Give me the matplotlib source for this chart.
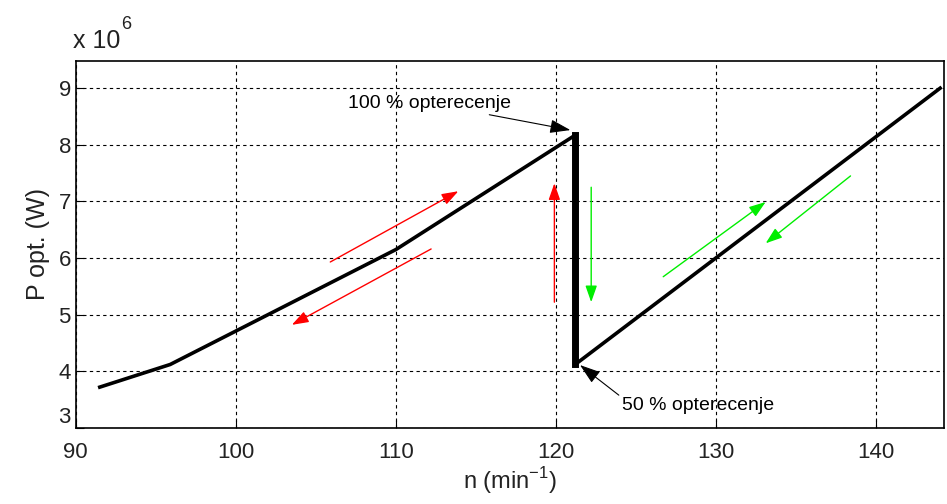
import numpy as np
import matplotlib.pyplot as plt

plt.rcParams['font.family'] = ['Liberation Sans', 'DejaVu Sans']
plt.rcParams['mathtext.fontset'] = 'custom'
plt.rcParams['mathtext.rm'] = 'Liberation Sans'

# karakteristika P opt. (n)
n_up = [91.5, 95.9, 110.0, 121.2]
p_up = [3.72e6, 4.12e6, 6.15e6, 8.17e6]
n_jump = [121.2, 121.2]
p_jump = [8.17e6, 4.12e6]
n_down = [121.2, 144.0]
p_down = [4.12e6, 9.0e6]

# strelice (n0, p0, n1, p1) u jedinicama 1e6 W
red_arrows = [(105.9, 5.93, 113.9, 7.18),
              (112.2, 6.16, 103.5, 4.82),
              (119.9, 5.22, 119.9, 7.32)]
green_arrows = [(122.2, 7.25, 122.2, 5.22),
                (126.7, 5.67, 133.1, 6.99),
                (138.4, 7.45, 133.1, 6.26)]

x_ticks = [90, 100, 110, 120, 130, 140]
y_ticks = [3, 4, 5, 6, 7, 8, 9]

fig = plt.figure(figsize=(9.47, 5.04), dpi=100)
ax = fig.add_axes([0.080, 0.151, 0.917, 0.728])

ax.plot(n_up, np.array(p_up) / 1e6, color='black', lw=2.6)
ax.plot(n_jump, np.array(p_jump) / 1e6, color='black', lw=5)
ax.plot(n_down, np.array(p_down) / 1e6, color='black', lw=2.6)

for col, arrows in (('#ff0000', red_arrows), ('#00ee00', green_arrows)):
    for x0, y0, x1, y1 in arrows:
        ax.annotate('', xy=(x1, y1), xytext=(x0, y0),
                    arrowprops=dict(arrowstyle='-|>,head_length=1.0,head_width=0.35',
                                    color=col, lw=1.0, shrinkA=0, shrinkB=0))

ax.annotate('100 % opterecenje', xy=(120.9, 8.26), xytext=(117.2, 8.73),
            ha='right', va='center', fontsize=14,
            arrowprops=dict(arrowstyle='-|>,head_length=0.9,head_width=0.3',
                            color='black', lw=0.8, shrinkA=0, shrinkB=0))
ax.annotate('50 % opterecenje', xy=(121.5, 4.11), xytext=(124.1, 3.39),
            ha='left', va='center', fontsize=14,
            arrowprops=dict(arrowstyle='-|>,head_length=0.9,head_width=0.3',
                            color='black', lw=0.8, shrinkA=0, shrinkB=0,
                            relpos=(0.0, 1.0)))

ax.set_xlim(90, 144.25)
ax.set_ylim(3, 9.48)
ax.set_xticks(x_ticks)
ax.set_yticks(y_ticks)
ax.tick_params(direction='in', labelsize=16, length=6, color='black', labelcolor='#222222')
ax.tick_params(axis='x', pad=10)
ax.get_yticklabels()[0].set_verticalalignment('bottom')
ax.grid(True, color='black', linestyle=(0, (3, 3)), lw=0.8)
for s in ax.spines.values():
    s.set_linewidth(1.2)

ax.set_xlabel('n (min$^{-1}$)', fontsize=17, labelpad=2, color='#222222')
ax.set_ylabel('P opt. (W)', fontsize=18, labelpad=6, color='#222222')
fig.text(0.077, 0.905, 'x 10', fontsize=18, ha='left', va='baseline', color='#222222')
fig.text(0.128, 0.942, '6', fontsize=13, ha='left', va='baseline', color='#222222')

fig.savefig('out.png', dpi=100)
